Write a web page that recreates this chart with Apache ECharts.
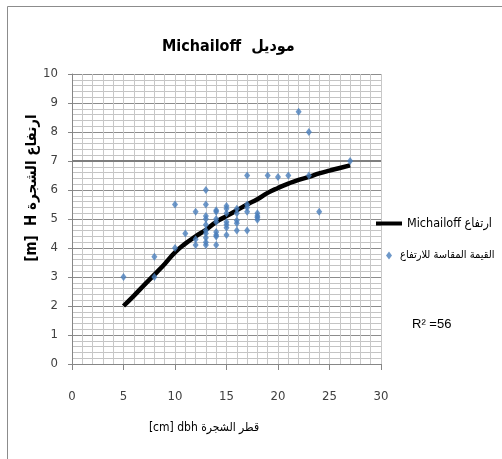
<!DOCTYPE html>
<html>
<head>
<meta charset="utf-8">
<script src="https://cdn.jsdelivr.net/npm/echarts@6/dist/echarts.min.js"></script>
<style>html,body{margin:0;padding:0;background:#fff}#c{width:502px;height:459px}</style>
</head>
<body>
<div id="c"></div>
<script>
// Michailoff model curve (dbh cm, height m)
var curveX = [5,6,7,8,9,10,11,12,13,14,15,16,17,18,19,20,21,22,23,24,25,26,27];
var curveY = [2.0,2.35,2.72,3.08,3.45,3.85,4.15,4.4,4.63,4.9,5.1,5.3,5.5,5.68,5.9,6.07,6.22,6.35,6.45,6.57,6.67,6.76,6.85];
// Measured heights
var measX = [5,8,8,10,10,11,12,12,12,
  13,13,13,13,13,13,13,13,13,13,
  14,14,14,14,14,14,14,14,
  15,15,15,15,15,15,15,
  16,16,16,16,16,
  17,17,17,17,17,
  18,18,18,18,
  19,20,21,22,23,23,24,27];
var measY = [3.0,3.7,3.0,5.5,4.0,4.5,5.25,4.3,4.1,
  6.0,5.5,5.1,5.0,4.8,4.6,4.5,4.35,4.2,4.1,
  5.3,5.25,5.0,4.9,4.55,4.45,4.4,4.1,
  5.45,5.35,5.2,4.9,4.8,4.7,4.45,
  5.35,5.2,4.95,4.85,4.6,
  6.5,5.5,5.4,5.25,4.6,
  5.2,5.1,5.05,4.97,
  6.5,6.45,6.5,8.7,8.0,6.5,5.25,7.0];
var xTicks = [0,5,10,15,20,25,30];
var yTicks = [0,1,2,3,4,5,6,7,8,9,10];
var nameLine = 'Michailoff ارتفاع';
var nameScatter = 'القيمة المقاسة للارتفاع';
var titleText = 'Michailoff  موديل';
var xName = '[cm] dbh قطر الشجرة';
var yName = '[m]  H ارتفاع الشجرة';

var font = "'Liberation Sans Narrow','DejaVu Sans Condensed','DejaVu Sans',sans-serif";
var chart = echarts.init(document.getElementById('c'), null, {renderer:'canvas'});
chart.setOption({
  animation:false,
  backgroundColor:'#ffffff',
  title:{text:titleText, left:157, top:34,
    textStyle:{fontFamily:font, fontSize:16, fontWeight:'bold', color:'#000'}},
  grid:{left:72, right:121, top:74, bottom:95},
  legend:[
    {orient:'vertical', left:371, top:212, itemWidth:26, itemHeight:4, icon:'rect',
      textStyle:{fontFamily:font, fontSize:12.5, color:'#000'},
      data:[{name:nameLine}]},
    {orient:'vertical', left:381, top:245, itemWidth:6, itemHeight:8, icon:'diamond',
      textStyle:{fontFamily:font, fontSize:11, color:'#000', padding:[0,0,0,3]},
      data:[{name:nameScatter}]}
  ],
  xAxis:{type:'value', min:0, max:30, interval:5,
    axisLine:{show:true, onZero:false, lineStyle:{color:'#868686'}},
    axisTick:{show:true, length:6, lineStyle:{color:'#868686'}},
    axisLabel:{margin:26, fontFamily:font, fontSize:13, color:'#404040',
      formatter:function(v){return xTicks.indexOf(v)>=0 ? String(v) : '';}},
    splitLine:{show:true, lineStyle:{color:'#c8c8c8'}},
    minorTick:{show:false, splitNumber:5},
    minorSplitLine:{show:true, lineStyle:{color:'#c8c8c8'}}},
  yAxis:{type:'value', min:0, max:10, interval:1,
    axisLine:{show:true, lineStyle:{color:'#868686'}},
    axisTick:{show:true, length:4, lineStyle:{color:'#868686'}},
    axisLabel:{margin:14, fontFamily:font, fontSize:13, color:'#404040',
      formatter:function(v){return yTicks.indexOf(v)>=0 ? String(v) : '';}},
    splitLine:{show:true, lineStyle:{color:'#8c8c8c'}},
    minorTick:{show:false, splitNumber:5},
    minorSplitLine:{show:true, lineStyle:{color:'#c4c4c4'}}},
  series:[
    {name:nameScatter, type:'scatter', symbol:'diamond', symbolSize:[6,8],
      itemStyle:{color:'#4a7ebb'},
      data: measX.map(function(x,i){return [x, measY[i]];}), z:5},
    {name:nameLine, type:'line', smooth:true, showSymbol:false, symbol:'none',
      lineStyle:{color:'#000', width:4.5}, itemStyle:{color:'#000'},
      data: curveX.map(function(x,i){return [x, curveY[i]];}), z:4,
      markLine:{silent:true, symbol:'none', label:{show:false}, z:1,
        lineStyle:{color:'#7f7f7f', width:2, type:'solid'}, data:[{yAxis:7}]}}
  ],
  graphic:[
    {type:'rect', shape:{x:7.5, y:6.5, width:500, height:470}, style:{fill:null, stroke:'#8c8c8c', lineWidth:1}, silent:true},
    {type:'text', x:412, y:318, style:{text:'R² =56', font:"13px 'Liberation Sans Narrow', sans-serif", fill:'#000'}},
    {type:'text', x:204, y:428, style:{text:xName, align:'center', verticalAlign:'middle',
      font:"12px 'Liberation Sans Narrow','DejaVu Sans Condensed','DejaVu Sans',sans-serif", fill:'#000'}},
    {type:'text', x:32, y:188, rotation:Math.PI/2, style:{text:yName, align:'center', verticalAlign:'middle',
      font:"bold 15px 'Liberation Sans Narrow','DejaVu Sans Condensed','DejaVu Sans',sans-serif", fill:'#000'}}
  ]
});
</script>
</body>
</html>
